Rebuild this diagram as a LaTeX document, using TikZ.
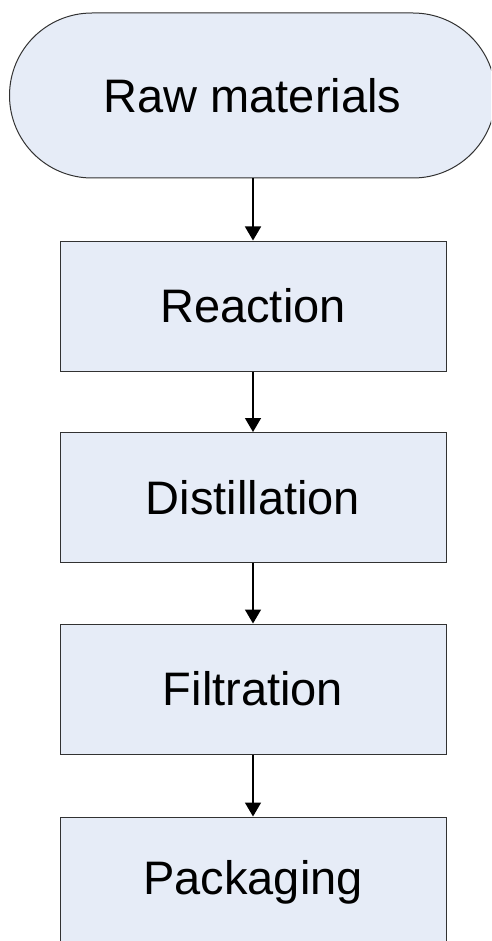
\documentclass[tikz,border=0pt]{standalone}
\usepackage{fontspec}
\setmainfont{Liberation Sans}
\usetikzlibrary{arrows.meta}
\definecolor{boxfill}{RGB}{230,236,247}
\definecolor{boxline}{RGB}{50,50,50}
\tikzset{
  x=1pt, y=1pt,
  base/.style={draw=boxline, line width=1pt, fill=boxfill, inner sep=0pt,
    font=\fontsize{47}{56}\selectfont, text=black},
  terminal/.style={base, rounded corners=82.5pt, minimum width=486pt, minimum height=165pt},
  stepbox/.style={base, minimum width=386pt, minimum height=130pt},
  flow/.style={draw=black, line width=1.5pt, -{Triangle[length=14pt,width=16pt]}}
}
\begin{document}
\begin{tikzpicture}
\useasboundingbox (0,0) rectangle (491,-941);
\clip (0,0) rectangle (491,-941);
\node[terminal] (raw) at (252.5,-95.5) {Raw materials};
\node[stepbox] (reac) at (253,-306) {Reaction};
\node[stepbox] (dist) at (253,-497.5) {Distillation};
\node[stepbox] (filt) at (253,-689) {Filtration};
\node[stepbox] (pack) at (253,-882) {Packaging};
\draw[flow] (raw.south -| reac.north) -- (reac.north);
\draw[flow] (reac.south) -- (dist.north);
\draw[flow] (dist.south) -- (filt.north);
\draw[flow] (filt.south) -- (pack.north);
\end{tikzpicture}
\end{document}
